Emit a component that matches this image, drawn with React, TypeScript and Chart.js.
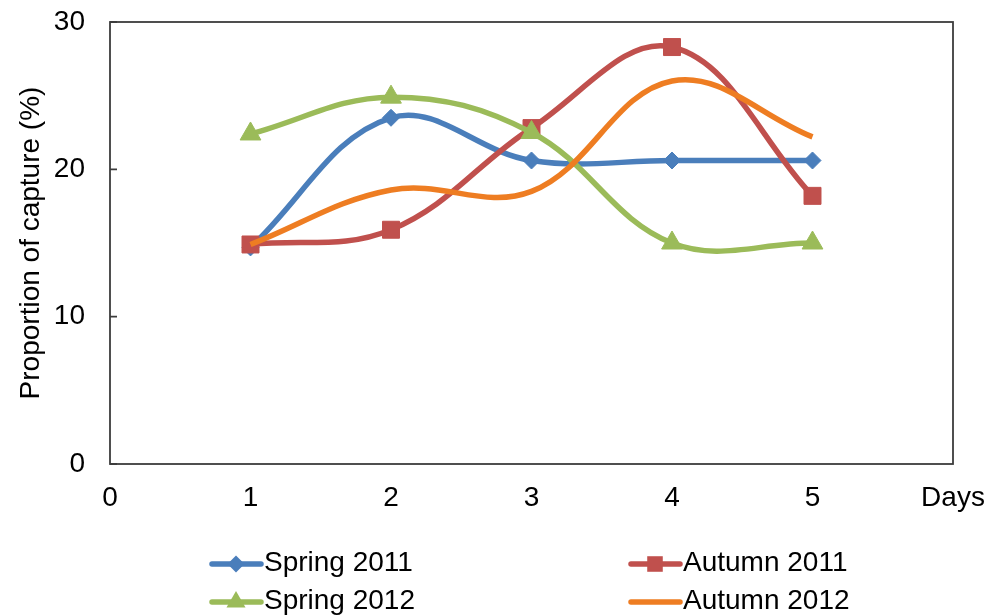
import React, { useEffect, useRef } from 'react';
import { Chart, registerables } from 'chart.js';

Chart.register(...registerables);

// Sampling days and capture proportions (%) per season
const days = [1, 2, 3, 4, 5];
const spring2011 = [14.7, 23.5, 20.6, 20.6, 20.6];
const autumn2011 = [14.9, 15.9, 22.8, 28.3, 18.2];
const spring2012 = [22.4, 24.9, 22.5, 15.0, 15.0];
const autumn2012 = [14.9, 18.6, 18.5, 26.0, 22.2];

// Axis ticks
const xTicks = [0, 1, 2, 3, 4, 5, 6];
const xTickLabels = ['0', '1', '2', '3', '4', '5', 'Days'];
const yTicks = [0, 10, 20, 30];
const yTitle = 'Proportion of capture (%)';

const FONT = '"Liberation Sans", Arial, Helvetica, sans-serif';
const FONT_SIZE = 28;
const HIDDEN = 'rgba(0,0,0,0)';

type Marker = 'diamond' | 'square' | 'triangle' | 'none';

interface Series {
  name: string;
  values: number[];
  color: string;
  marker: Marker;
  radius: number;
  order: number;
}

const series: Series[] = [
  { name: 'Spring 2011', values: spring2011, color: '#4A7EBB', marker: 'diamond', radius: 8.5, order: 3 },
  { name: 'Autumn 2011', values: autumn2011, color: '#C0504D', marker: 'square', radius: 12, order: 2 },
  { name: 'Spring 2012', values: spring2012, color: '#9BBB59', marker: 'triangle', radius: 12, order: 1 },
  { name: 'Autumn 2012', values: autumn2012, color: '#EE7D22', marker: 'none', radius: 0, order: 0 },
];

const chartPointStyle = (m: Marker): any =>
  m === 'diamond' ? 'rectRot' : m === 'square' ? 'rect' : m === 'triangle' ? 'triangle' : false;

function drawMarker(ctx: CanvasRenderingContext2D, m: Marker, x: number, y: number, r: number, color: string) {
  if (m === 'none') return;
  ctx.save();
  ctx.fillStyle = color;
  ctx.beginPath();
  if (m === 'diamond') {
    ctx.moveTo(x, y - r);
    ctx.lineTo(x + r, y);
    ctx.lineTo(x, y + r);
    ctx.lineTo(x - r, y);
  } else if (m === 'square') {
    const h = r * Math.SQRT1_2;
    ctx.rect(x - h, y - h, 2 * h, 2 * h);
  } else {
    const s = Math.sin((2 * Math.PI) / 3) * r;
    const c = Math.cos((2 * Math.PI) / 3) * r;
    ctx.moveTo(x, y - r);
    ctx.lineTo(x + s, y - c);
    ctx.lineTo(x - s, y - c);
  }
  ctx.closePath();
  ctx.fill();
  ctx.restore();
}

// Frame around the plot area, inward y tick marks and a two-column legend
const decorations = {
  id: 'decorations',
  beforeDatasetsDraw(chart: any) {
    const { ctx, chartArea } = chart;
    const yScale = chart.scales.y;
    ctx.save();
    ctx.strokeStyle = '#3c3c3c';
    ctx.lineWidth = 1.8;
    ctx.strokeRect(chartArea.left, chartArea.top, chartArea.right - chartArea.left, chartArea.bottom - chartArea.top);
    ctx.beginPath();
    yTicks.forEach((v) => {
      const py = yScale.getPixelForValue(v);
      ctx.moveTo(chartArea.left, py);
      ctx.lineTo(chartArea.left + 7, py);
    });
    ctx.stroke();
    ctx.restore();
  },
  afterDraw(chart: any) {
    const { ctx } = chart;
    const colX = [210, 629];
    const rowY = [564, 602];
    ctx.save();
    ctx.font = `${FONT_SIZE}px ${FONT}`;
    ctx.textBaseline = 'middle';
    ctx.textAlign = 'left';
    series.forEach((s, i) => {
      const x = colX[i % 2];
      const y = rowY[Math.floor(i / 2)];
      ctx.strokeStyle = s.color;
      ctx.lineWidth = 5.5;
      ctx.lineCap = 'round';
      ctx.beginPath();
      ctx.moveTo(x + 2, y);
      ctx.lineTo(x + 51, y);
      ctx.stroke();
      drawMarker(ctx, s.marker, x + 26, y, s.marker === 'diamond' ? 8.5 : 11, s.color);
      ctx.fillStyle = '#000';
      ctx.fillText(s.name, x + 54, y - 1);
    });
    ctx.restore();
  },
};

export default function App() {
  const canvasRef = useRef<HTMLCanvasElement>(null);

  useEffect(() => {
    const canvas = canvasRef.current;
    if (!canvas) return;

    const chart = new Chart(canvas, {
      type: 'line',
      data: {
        datasets: series.map((s) => ({
          label: s.name,
          data: s.values.map((v, i) => ({ x: days[i], y: v })),
          borderColor: s.color,
          backgroundColor: s.color,
          borderWidth: 5.5,
          tension: 0.38,
          fill: false,
          pointStyle: chartPointStyle(s.marker),
          pointRadius: s.radius,
          pointBorderWidth: 1,
          pointBorderColor: s.color,
          pointBackgroundColor: s.color,
          order: s.order,
        })),
      },
      options: {
        responsive: false,
        maintainAspectRatio: false,
        animation: false,
        layout: { padding: { left: 0, right: 45, top: 22, bottom: 0 } },
        plugins: {
          legend: { display: false },
          tooltip: { enabled: false },
        },
        scales: {
          x: {
            type: 'linear',
            min: 0,
            max: 6,
            afterBuildTicks: (scale: any) => {
              scale.ticks = xTicks.map((v) => ({ value: v }));
            },
            afterFit: (scale: any) => {
              scale.height = 152;
            },
            ticks: {
              autoSkip: false,
              maxRotation: 0,
              padding: 0,
              color: '#000',
              font: { family: FONT, size: FONT_SIZE },
              callback: (v: any) => xTickLabels[xTicks.indexOf(Number(v))] ?? '',
            },
            grid: { display: true, drawOnChartArea: false, drawTicks: true, tickLength: 17, tickColor: HIDDEN, color: HIDDEN },
            border: { display: false },
          },
          y: {
            min: 0,
            max: 30,
            afterBuildTicks: (scale: any) => {
              scale.ticks = yTicks.map((v) => ({ value: v }));
            },
            afterFit: (scale: any) => {
              scale.width = 110;
            },
            ticks: {
              padding: 0,
              color: '#000',
              font: { family: FONT, size: FONT_SIZE },
            },
            title: {
              display: true,
              text: yTitle,
              color: '#000',
              font: { family: FONT, size: FONT_SIZE },
              padding: { top: 14, bottom: 0 },
            },
            grid: { display: true, drawOnChartArea: false, drawTicks: true, tickLength: 25, tickColor: HIDDEN, color: HIDDEN },
            border: { display: false },
          },
        },
      },
      plugins: [decorations],
    });

    return () => chart.destroy();
  }, []);

  return (
    <div style={{ position: 'fixed', left: 0, top: 0, width: 998, height: 616, background: '#fff' }}>
      <canvas ref={canvasRef} width={998} height={616} style={{ display: 'block', width: 998, height: 616 }} />
    </div>
  );
}
